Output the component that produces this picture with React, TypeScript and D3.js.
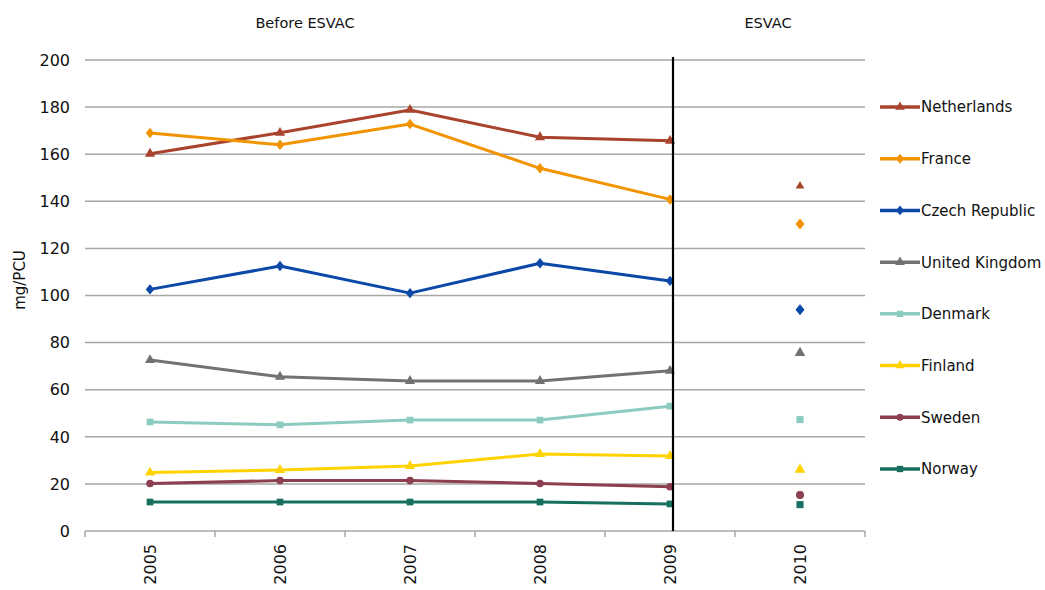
import React from "react";
import * as d3 from "d3";

const years = ["2005", "2006", "2007", "2008", "2009", "2010"];
const lineYears = ["2005", "2006", "2007", "2008", "2009"];
const yTicks = [0, 20, 40, 60, 80, 100, 120, 140, 160, 180, 200];

const countries = ["Netherlands", "France", "Czech Republic", "United Kingdom", "Denmark", "Finland", "Sweden", "Norway"];
const colors = ["#A9432D", "#F29400", "#0B48A8", "#727272", "#8CCBBF", "#FFD200", "#8B3F50", "#17705F"];
const markers = ["triangle", "diamond", "diamond", "triangle", "square", "triangle", "circle", "square"];

// 2005–2009 values per country
const netherlands = [160.2, 169.1, 178.8, 167.2, 165.7];
const france = [169.0, 164.0, 172.8, 154.0, 140.8];
const czechRepublic = [102.6, 112.5, 101.0, 113.7, 106.2];
const unitedKingdom = [72.6, 65.5, 63.7, 63.7, 68.0];
const denmark = [46.3, 45.1, 47.1, 47.1, 53.0];
const finland = [24.8, 25.9, 27.6, 32.7, 31.8];
const sweden = [20.2, 21.4, 21.4, 20.2, 18.8];
const norway = [12.3, 12.3, 12.3, 12.3, 11.5];
const series = [netherlands, france, czechRepublic, unitedKingdom, denmark, finland, sweden, norway];

// 2010 single values (ESVAC)
const values2010 = [146.5, 130.4, 94.0, 75.6, 47.3, 26.0, 15.3, 11.2];

const W = 1045;
const H = 590;
const left = 85;
const right = 865;
const top = 60;
const bottom = 531;

// Rotated-square diamond, a little wider than d3's default diamond
const wideDiamond: d3.SymbolType = {
  draw(context, size) {
    const r = Math.sqrt(size / 2);
    context.moveTo(0, -r * 1.1);
    context.lineTo(r * 0.9, 0);
    context.lineTo(0, r * 1.1);
    context.lineTo(-r * 0.9, 0);
    context.closePath();
  },
};

function Marker({ type, x, y, color, size }: { type: string; x: number; y: number; color: string; size: number }) {
  const symType =
    type === "triangle" ? d3.symbolTriangle : type === "diamond" ? wideDiamond : type === "square" ? d3.symbolSquare : d3.symbolCircle;
  const d = d3.symbol().type(symType).size(size)()!;
  return <path d={d} transform={`translate(${x},${y})`} fill={color} />;
}

export default function App() {
  const x = d3.scaleBand().domain(years).range([left, right]);
  const y = d3.scaleLinear().domain([0, 200]).range([bottom, top]);
  const cx = (yr: string) => (x(yr) as number) + x.bandwidth() / 2;
  const line = d3
    .line<number>()
    .x((_, i) => cx(lineYears[i]))
    .y((v) => y(v));
  const font = "'DejaVu Sans', Verdana, sans-serif";
  const boundaryX = cx("2009") + 3;
  const legendY = d3.scalePoint().domain(countries).range([107, 469]);

  return (
    <svg width={W} height={H} style={{ position: "absolute", left: 0, top: 0 }} fontFamily={font}>
      <rect width={W} height={H} fill="#fff" />
      {yTicks.map((t) => (
        <g key={t}>
          {t > 0 && <line x1={left} x2={right} y1={y(t)} y2={y(t)} stroke="#a6a6a6" strokeWidth={1.5} />}
          <text x={70} y={y(t)} dy="0.36em" textAnchor="end" fontSize={16} fill="#111">
            {t}
          </text>
        </g>
      ))}
      {/* category axis */}
      <line x1={left} x2={right} y1={bottom} y2={bottom} stroke="#a6a6a6" strokeWidth={1.5} />
      {[...years.map((yr) => x(yr) as number), right].map((px, i) => (
        <line key={i} x1={px} x2={px} y1={bottom} y2={bottom + 6} stroke="#a6a6a6" strokeWidth={1.5} />
      ))}
      {years.map((yr) => (
        <text
          key={yr}
          transform={`translate(${cx(yr) + 6},${bottom + 13}) rotate(-90)`}
          textAnchor="end"
          fontSize={16}
          fill="#111"
        >
          {yr}
        </text>
      ))}
      <text transform={`translate(25,280) rotate(-90)`} textAnchor="middle" fontSize={15} fill="#111">
        mg/PCU
      </text>
      <text x={305} y={28} textAnchor="middle" fontSize={14.5} fill="#111">
        Before ESVAC
      </text>
      <text x={768} y={28} textAnchor="middle" fontSize={14.5} fill="#111">
        ESVAC
      </text>

      {series.map((vals, i) => (
        <g key={countries[i]}>
          <path d={line(vals)!} fill="none" stroke={colors[i]} strokeWidth={3} strokeLinejoin="round" />
          {vals.map((v, j) => (
            <Marker key={j} type={markers[i]} x={cx(lineYears[j])} y={y(v)} color={colors[i]} size={45} />
          ))}
        </g>
      ))}
      <line x1={boundaryX} x2={boundaryX} y1={57} y2={bottom} stroke="#000" strokeWidth={2.2} />

      {values2010.map((v, i) => (
        <Marker key={i} type={markers[i]} x={cx("2010")} y={y(v)} color={colors[i]} size={i === 0 ? 32 : 50} />
      ))}

      {countries.map((c, i) => {
        const ly = legendY(c) as number;
        return (
          <g key={c}>
            <line x1={880} x2={920} y1={ly} y2={ly} stroke={colors[i]} strokeWidth={3.5} />
            <Marker type={markers[i]} x={900} y={ly} color={colors[i]} size={40} />
            <text x={921} y={ly} dy="0.36em" fontSize={15} fill="#111">
              {c}
            </text>
          </g>
        );
      })}
    </svg>
  );
}
